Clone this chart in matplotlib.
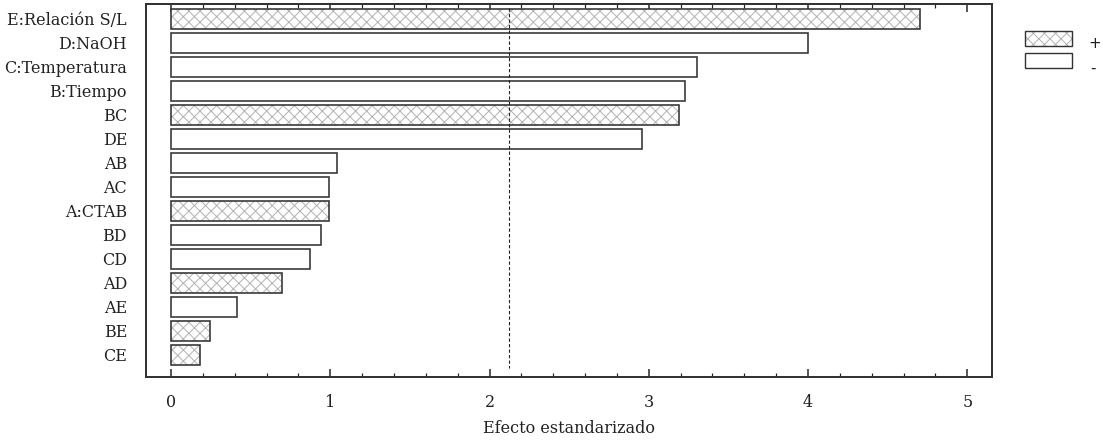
import matplotlib
matplotlib.use("Agg")
import matplotlib.pyplot as plt
from matplotlib.ticker import MultipleLocator
from matplotlib.patches import Rectangle

labels = ["E:Relación S/L", "D:NaOH", "C:Temperatura", "B:Tiempo", "BC", "DE",
          "AB", "AC", "A:CTAB", "BD", "CD", "AD", "AE", "BE", "CE"]
effects = [4.70, 4.00, 3.30, 3.23, 3.19, 2.96, 1.04, 0.99, 0.99, 0.94, 0.875,
           0.70, 0.415, 0.242, 0.179]
positive = [True, False, False, False, True, False, False, False, True, False,
            False, True, False, True, True]
t_crit = 2.12

DPI = 100
W, H = 1103, 442


def pt(px):
    return px * 72.0 / DPI


plt.rcParams['font.family'] = ['DejaVu Serif']
plt.rcParams['hatch.linewidth'] = pt(1.0)

fig = plt.figure(figsize=(W / DPI, H / DPI), dpi=DPI)
ax = fig.add_axes([146 / W, 1 - 377 / H, (992 - 146) / W, (377 - 4) / H])

ypos = list(range(len(labels)))
h = 0.82
edge = '#333333'
hcol = '#b4b4b4'
for y, v, p in zip(ypos, effects, positive):
    if p:
        ax.barh(y, v, height=h, color='white', edgecolor=hcol,
                hatch='xxx', linewidth=0, zorder=2)
    ax.barh(y, v, height=h, fill=False, edgecolor=edge, linewidth=pt(1.6), zorder=3)

ax.plot([t_crit, t_crit], [-0.45, 14.55], color='#222222', linestyle=(0, (3, 2)),
        linewidth=pt(1.1), zorder=4)

fs = pt(16)
ax.set_yticks(ypos)
ax.set_yticklabels(labels, fontsize=fs)
ax.set_ylim(14.92, -0.625)
ax.set_xlim(-0.157, 5.155)
ax.xaxis.set_major_locator(MultipleLocator(1))
ax.xaxis.set_minor_locator(MultipleLocator(0.2))
ax.tick_params(axis='y', length=0, pad=pt(19), colors='#222222')
ax.tick_params(axis='x', which='major', direction='in', length=pt(8), width=pt(1.5),
               top=True, labelsize=fs, pad=pt(17), colors='#222222')
ax.tick_params(axis='x', which='minor', direction='in', length=pt(4), width=pt(1.2),
               top=True, colors='#222222')
for s in ax.spines.values():
    s.set_linewidth(pt(2))
    s.set_color('#333333')
ax.set_xlabel("Efecto estandarizado", fontsize=fs, labelpad=pt(9), color='#222222')

# legend
lx, lw, lh = 1025 / W, 47 / W, 15 / H
fig.patches.append(Rectangle((lx, 1 - 46 / H), lw, lh, transform=fig.transFigure,
                             facecolor='white', edgecolor=hcol, hatch='xxx',
                             linewidth=0))
fig.patches.append(Rectangle((lx, 1 - 46 / H), lw, lh, transform=fig.transFigure,
                             fill=False, edgecolor=edge, linewidth=pt(1.4)))
fig.patches.append(Rectangle((lx, 1 - 68 / H), lw, lh, transform=fig.transFigure,
                             fill=False, edgecolor=edge, linewidth=pt(1.4)))
fig.text(1088 / W, 1 - 44 / H, "+", fontsize=pt(15), family='DejaVu Sans',
         va='center', ha='left', color='#222222')
fig.text(1090 / W, 1 - 68 / H, "-", fontsize=pt(15), family='DejaVu Sans',
         va='center', ha='left', color='#222222')

fig.savefig("out.png", dpi=DPI)
